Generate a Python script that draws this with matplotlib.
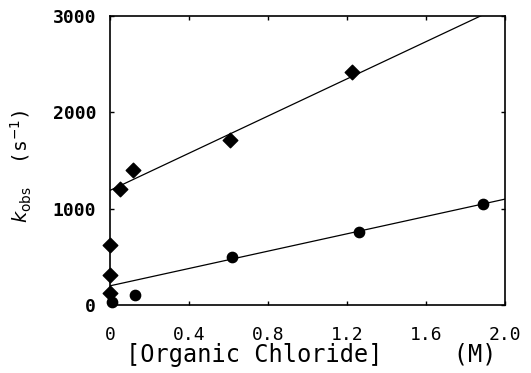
import numpy as np
import matplotlib
matplotlib.use('Agg')
import matplotlib.pyplot as plt

plt.rcParams['font.family'] = ['DejaVu Sans Mono']
plt.rcParams['mathtext.fontset'] = 'dejavusans'

# diamonds
dia_x = [0.0, 0.0, 0.0, 0.05, 0.115, 0.61, 1.225]
dia_y = [620, 310, 130, 1200, 1400, 1710, 2420]
# circles
cir_x = [0.01, 0.125, 0.62, 1.26, 1.89]
cir_y = [30, 100, 495, 760, 1050]
# fitted lines (intercept, slope)
upper_fit = (1190, 965)
lower_fit = (200, 450)

xticks = [0, 0.4, 0.8, 1.2, 1.6, 2.0]
xticklabels = ['0', '0.4', '0.8', '1.2', '1.6', '2.0']
yticks = [0, 1000, 2000, 3000]

fig = plt.figure(figsize=(5.31, 3.73), dpi=100)
ax = fig.add_axes([0.207, 0.182, 0.744, 0.775])

xx = np.array([0.0, 2.0])
ax.plot(xx, upper_fit[0] + upper_fit[1]*xx, color='k', lw=0.9)
ax.plot(xx, lower_fit[0] + lower_fit[1]*xx, color='k', lw=0.9)
ax.scatter(dia_x, dia_y, marker='D', s=55, color='k', zorder=3, clip_on=False)
ax.scatter(cir_x, cir_y, marker='o', s=55, color='k', zorder=3, clip_on=False)

ax.set_xlim(0, 2.0)
ax.set_ylim(0, 3000)
ax.set_xticks(xticks)
ax.set_xticklabels(xticklabels)
ax.set_yticks(yticks)
ax.tick_params(direction='in', top=True, right=True, length=3, width=1,
               labelsize=13)
ax.tick_params(axis='x', pad=15)
ax.tick_params(axis='y', pad=10)
for lab in ax.get_yticklabels():
    lab.set_fontweight('bold')
for s in ax.spines.values():
    s.set_linewidth(1.2)

ax.set_xlabel('[Organic Chloride]     (M)', fontsize=17, va='center')
ax.xaxis.set_label_coords(0.51, -0.173)
ax.set_ylabel(r'$k_{\rm obs}$  (s$^{-1}$)', fontsize=14, va='center')
ax.yaxis.set_label_coords(-0.225, 0.48)

plt.savefig('out.png', dpi=100)
